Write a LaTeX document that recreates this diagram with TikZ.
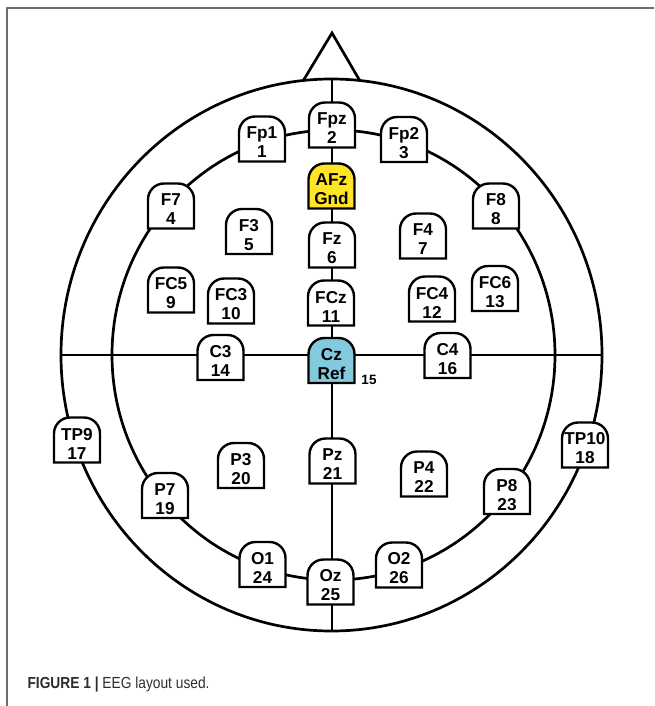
\documentclass[tikz,border=0pt]{standalone}
\usepackage{fontspec}
\usetikzlibrary{backgrounds}
\newfontfamily\arialfont{Liberation Sans}
\newfontfamily\capfont[FakeStretch=0.86]{Liberation Sans}
\definecolor{gndyellow}{RGB}{255,229,38}
\definecolor{refblue}{RGB}{132,202,222}
\definecolor{framegray}{RGB}{110,110,110}
\definecolor{capgray}{RGB}{45,45,45}

\begin{document}
\begin{tikzpicture}[x=1pt, y=-1pt, line join=round,
	head/.style={line width=2.7pt},
	elec/.style={font=\arialfont\bfseries\fontsize{17.2}{19}\selectfont, align=center, inner sep=0pt},
	tomb/.style={draw, line width=2.4pt}]
	\useasboundingbox (0,0) rectangle (654,706);
	\draw[framegray, line width=1.6pt] (7,706) -- (7,8) -- (654,8);
	\begin{scope}[on background layer]
		\draw[head] (331.5,355) ellipse [x radius=270.5pt, y radius=276pt];
		\draw[head] (333.5,355) ellipse [x radius=221.5pt, y radius=225pt];
		\draw[head] (303,81) -- (332,33) -- (360,81);
		\draw[line width=2.4pt] (61,355) -- (602,355) (332,79) -- (332,631);
	\end{scope}
	\foreach \la/\lb/\fc/\x/\y in {Fp1/1/white/262/139, Fpz/2/white/332/125, Fp2/3/white/404/139.5, AFz/Gnd/gndyellow/331.5/186, F7/4/white/171/206, F3/5/white/249/231.5, Fz/6/white/332/245, F4/7/white/423/236, F8/8/white/496/206, FC5/9/white/171/290, FC3/10/white/231/301, FCz/11/white/331/303, FC4/12/white/432/299, FC6/13/white/495/288.5, C3/14/white/220.5/357.5, Cz/Ref/refblue/331.5/360.5, C4/16/white/447.5/355.5, TP9/17/white/77/440, TP10/18/white/585/445, P7/19/white/165/495.5, P3/20/white/241/465.5, Pz/21/white/332.5/461, P4/22/white/424/474, P8/23/white/507/491.5, O1/24/white/262.5/564.5, Oz/25/white/330.5/582, O2/26/white/399/565} {
		\node[elec] (\la) at (\x,\y+3.5) {\la\\\lb};
		\begin{scope}[on background layer]
			\draw[tomb, fill=\fc] ([shift={(-23,19)}]\la.center) [rounded corners=16pt] -- ++(0,-45) -- ++(46,0) [sharp corners] -- ++(0,45) -- cycle;
		\end{scope}
	}
	\node[font=\arialfont\bfseries\fontsize{13.5}{15}\selectfont] (czno) at (369,380) {15};
	\node[font=\capfont\fontsize{16}{19}\selectfont, text=capgray, anchor=base west] (caption) at (24,688) {\textbf{FIGURE 1 |} EEG layout used.};
\end{tikzpicture}
\end{document}
